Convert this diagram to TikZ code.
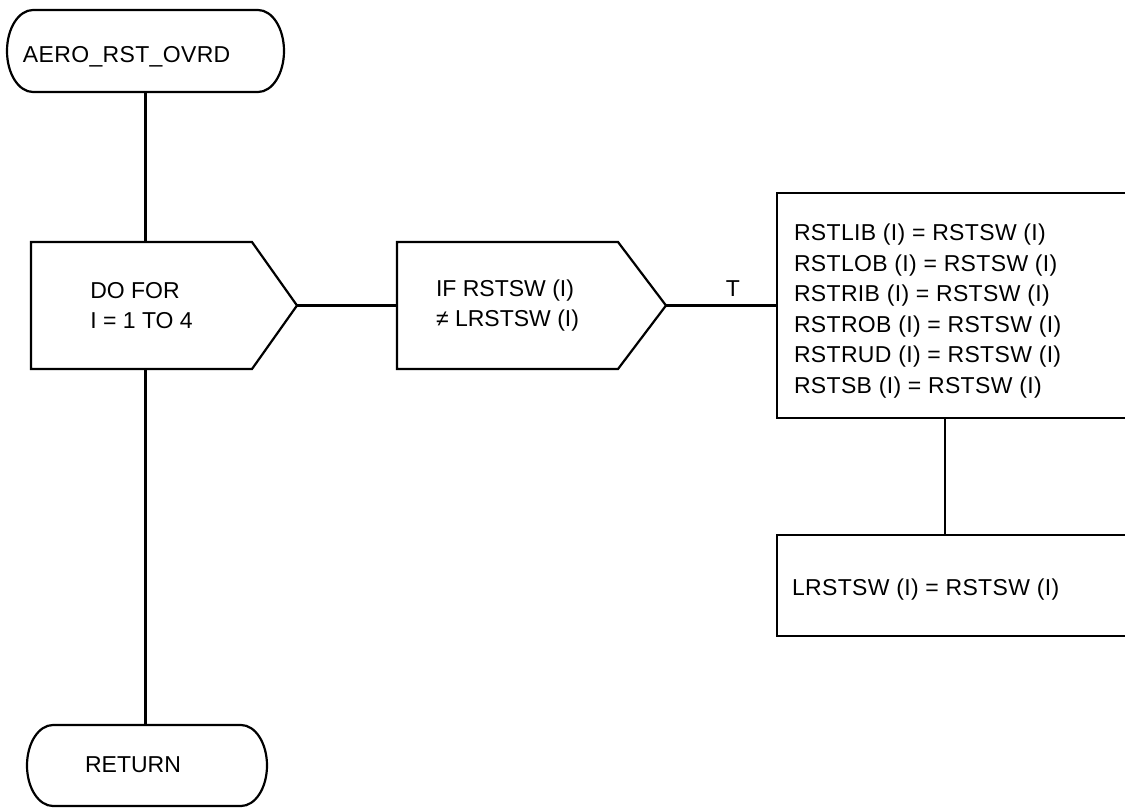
\documentclass[tikz,border=0pt]{standalone}
\usepackage{fontspec}
\setmainfont{Liberation Sans}
\newfontfamily\spacedfont[LetterSpace=1.5]{Liberation Sans}
\usetikzlibrary{calc}
\begin{document}
\begin{tikzpicture}[x=1pt,y=-1pt,line width=2.2pt,
  every node/.style={inner sep=0pt,outer sep=0pt,font=\fontsize{23}{30.5}\selectfont},
  frame/.style={draw=none,minimum width=#1},
  boxnode/.style={draw,minimum width=360pt},
  txt/.style={align=left},
  spaced/.style={font=\spacedfont\fontsize{23}{30.5}\selectfont},
  conn/.style={draw,line width=2.2pt}]
\useasboundingbox (0,0) rectangle (1125,808);
\clip (0,0) rectangle (1125,808);
\fill[white] (0,0) rectangle (1125,808);

% start terminal
\node[frame=277pt,minimum height=82pt] (start) at (145.5,51) {};
\draw ([xshift=26pt]start.north west) -- ([xshift=-26pt]start.north east)
  arc[start angle=90,end angle=-90,x radius=26pt,y radius=41pt]
  -- ([xshift=26pt]start.south west)
  arc[start angle=270,end angle=90,x radius=26pt,y radius=41pt] -- cycle;
\node[spaced,anchor=west] (starttext) at (23,57) {AERO\_RST\_OVRD};

% DO FOR
\node[frame=221pt,minimum height=127pt] (dofor) at (141.5,305.5) {};
\coordinate (dotip) at ($(dofor.east)+(45,0)$);
\draw (dofor.north west) -- (dofor.north east) -- (dotip) -- (dofor.south east) -- (dofor.south west) -- cycle;
\node[txt] (dofortext) at (dofor.center) {DO FOR\\I = 1 TO 4};

% IF
\node[frame=221pt,minimum height=127pt] (ifb) at (507.5,305.5) {};
\coordinate (iftip) at ($(ifb.east)+(48,0)$);
\draw (ifb.north west) -- (ifb.north east) -- (iftip) -- (ifb.south east) -- (ifb.south west) -- cycle;
\node[txt] (iftext) at (ifb.center) {IF RSTSW (I)\\≠ LRSTSW (I)};

% assignment boxes
\node[boxnode,minimum height=225pt] (big) at (957,305.5) {};
\node[txt,spaced,anchor=west] (bigtext) at (794,311) {RSTLIB (I) = RSTSW (I)\\RSTLOB (I) = RSTSW (I)\\RSTRIB (I) = RSTSW (I)\\RSTROB (I) = RSTSW (I)\\RSTRUD (I) = RSTSW (I)\\RSTSB (I) = RSTSW (I)};
\node[boxnode,minimum height=101pt] (small) at (957,585.5) {};
\node[spaced,anchor=west] (smalltext) at (792,590) {LRSTSW (I) = RSTSW (I)};

% return terminal
\node[frame=240pt,minimum height=81pt] (ret) at (147,765.5) {};
\draw ([xshift=26pt]ret.north west) -- ([xshift=-26pt]ret.north east)
  arc[start angle=90,end angle=-90,x radius=26pt,y radius=40.5pt]
  -- ([xshift=26pt]ret.south west)
  arc[start angle=270,end angle=90,x radius=26pt,y radius=40.5pt] -- cycle;
\node (rettext) at (133,765) {RETURN};

% connectors
\coordinate (vx) at (945,0);
\path[conn] (start.south) -- (start.south |- dofor.north);
\path[conn] (dofor.south -| start.south) -- (ret.north -| start.south);
\path[conn] (dotip) -- (ifb.west);
\path[conn] (iftip) -- (big.west |- iftip);
\node (tlab) at (733,289) {T};
\path[conn] (big.south -| vx) -- (small.north -| vx);
\end{tikzpicture}
\end{document}
